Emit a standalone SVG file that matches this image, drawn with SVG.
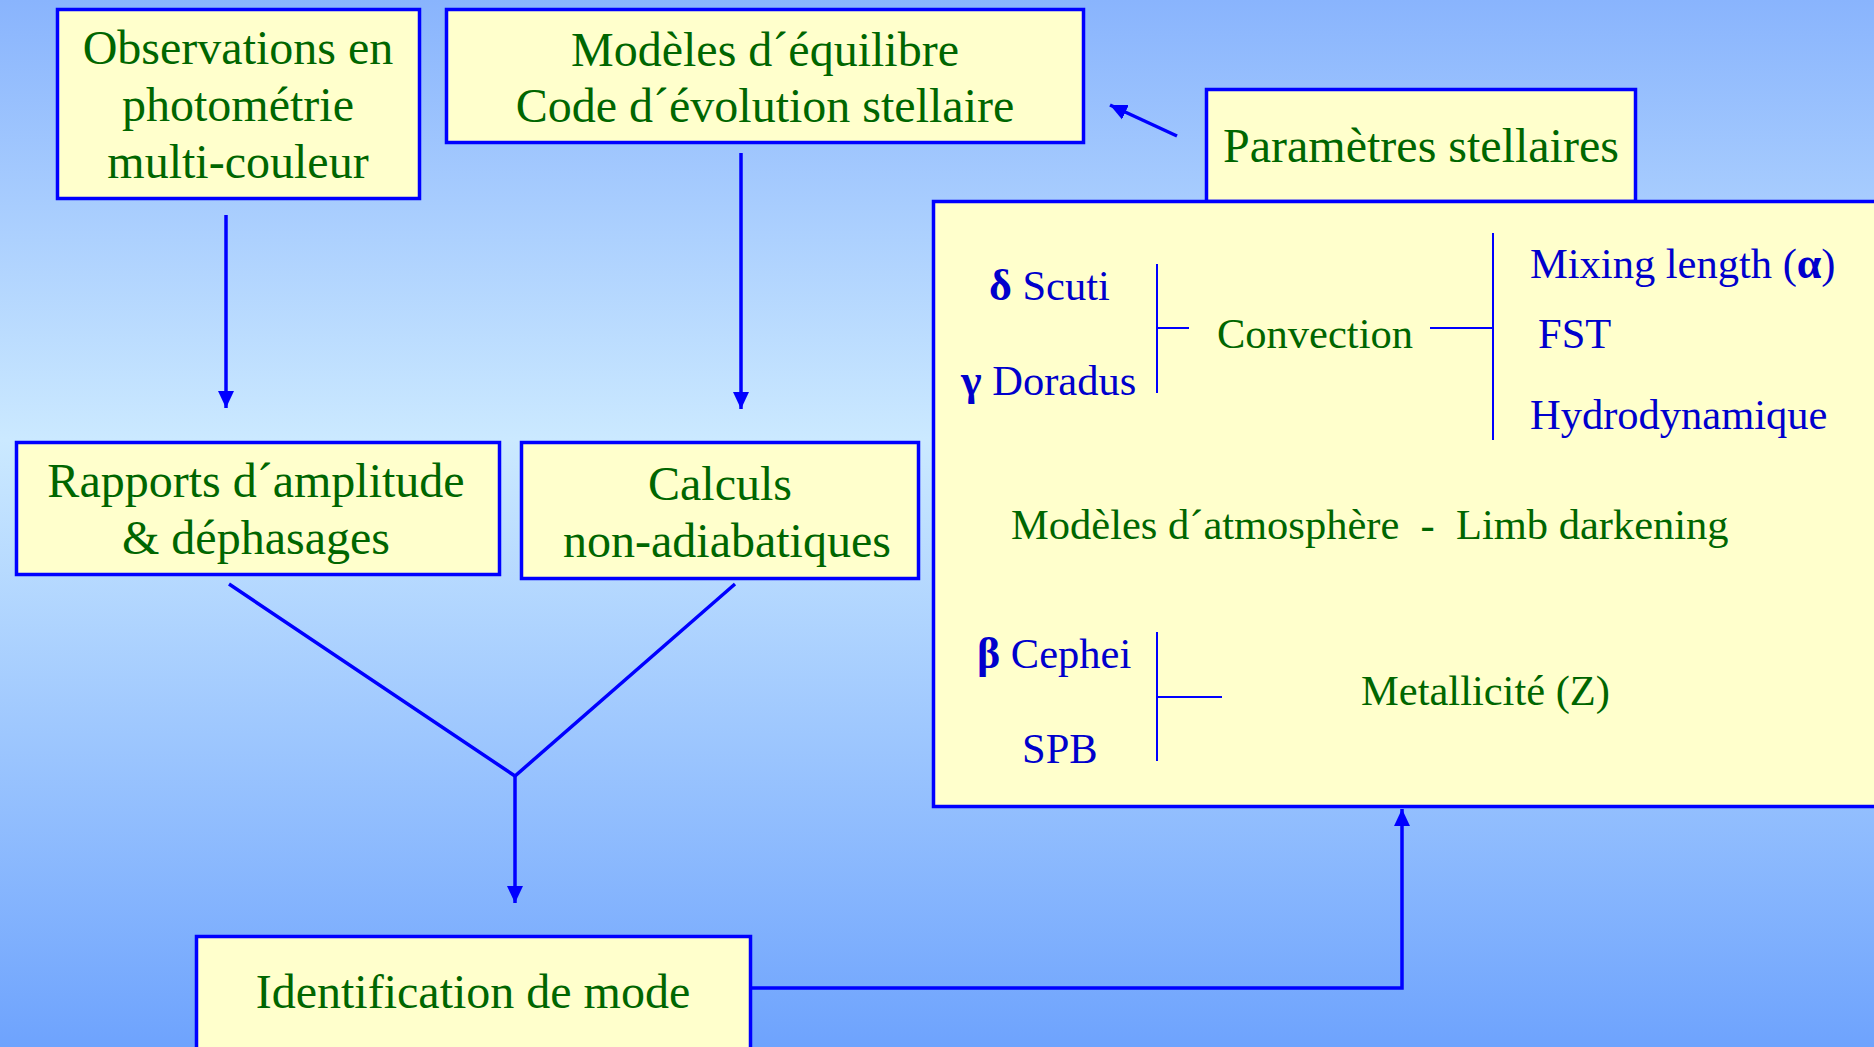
<svg xmlns="http://www.w3.org/2000/svg" width="1874" height="1047" viewBox="0 0 1874 1047">
  <defs>
    <linearGradient id="bg" x1="0" y1="0" x2="0" y2="1">
      <stop offset="0" stop-color="#89b4fd"/>
      <stop offset="0.42" stop-color="#cbe9ff"/>
      <stop offset="1" stop-color="#6ea3fd"/>
    </linearGradient>
    <marker id="head" markerUnits="userSpaceOnUse" markerWidth="18" markerHeight="18" viewBox="0 0 18 18" refX="17" refY="9" orient="auto">
      <path d="M0,1 L17,9 L0,17 Z" fill="#0000ff"/>
    </marker>
    <style>
      .box { fill: #ffffcc; stroke: #0000ff; stroke-width: 3.5; }
      .t { font-family: "Liberation Serif", "Times New Roman", serif; font-size: 48px; fill: #006600; text-anchor: middle; }
      .g { font-family: "Liberation Serif", "Times New Roman", serif; font-size: 42.5px; fill: #006600; }
      .b { font-family: "Liberation Serif", "Times New Roman", serif; font-size: 42.5px; fill: #0000cc; }
      .sym { font-weight: bold; font-size: 44px; }
      .edge { stroke: #0000ff; stroke-width: 3.5; fill: none; }
      .thin { stroke: #0000ff; stroke-width: 2; fill: none; }
    </style>
  </defs>

  <rect x="0" y="0" width="1874" height="1047" fill="url(#bg)"/>

  <g id="connectors">
    <line class="edge" x1="226" y1="215" x2="226" y2="408" marker-end="url(#head)"/>
    <line class="edge" x1="741" y1="153" x2="741" y2="409" marker-end="url(#head)"/>
    <polyline class="edge" points="229,584 515,776 735,584"/>
    <line class="edge" x1="515" y1="776" x2="515" y2="903" marker-end="url(#head)"/>
    <path class="edge" d="M752,988 H1402 V809" stroke-width="4" marker-end="url(#head)"/>
    <line class="edge" x1="1177" y1="136" x2="1110" y2="105" stroke-width="2.5" marker-end="url(#head)"/>
  </g>

  <g id="observations">
    <rect class="box" x="57.5" y="9.5" width="362" height="189"/>
    <text class="t" x="238" y="64">Observations en</text>
    <text class="t" x="238" y="121">photométrie</text>
    <text class="t" x="238" y="178">multi-couleur</text>
  </g>

  <g id="modeles-equilibre">
    <rect class="box" x="446.5" y="9.5" width="637" height="133"/>
    <text class="t" x="765" y="66">Modèles d´équilibre</text>
    <text class="t" x="765" y="122">Code d´évolution stellaire</text>
  </g>

  <g id="rapports">
    <rect class="box" x="16.5" y="442.5" width="483" height="132"/>
    <text class="t" x="256" y="497">Rapports d´amplitude</text>
    <text class="t" x="256" y="554">&amp; déphasages</text>
  </g>

  <g id="calculs">
    <rect class="box" x="521.5" y="442.5" width="397" height="136"/>
    <text class="t" x="720" y="500">Calculs</text>
    <text class="t" x="727" y="557">non-adiabatiques</text>
  </g>

  <g id="identification">
    <rect class="box" x="196.5" y="936.5" width="554" height="130"/>
    <text class="t" x="473" y="1008">Identification de mode</text>
  </g>

  <g id="parametres">
    <rect class="box" x="1206.5" y="89.5" width="429" height="112"/>
    <rect class="box" x="933.5" y="201.5" width="960" height="605"/>
    <text class="t" x="1421" y="162">Paramètres stellaires</text>

    <!-- convection group -->
    <text class="b" x="989" y="300"><tspan class="sym">δ</tspan> Scuti</text>
    <text class="b" x="961" y="395"><tspan class="sym">γ</tspan> Doradus</text>
    <path class="thin" d="M1157,264 V393 M1157,328 H1189"/>
    <text class="g" x="1217" y="348">Convection</text>
    <path class="thin" d="M1430,328 H1493" stroke-width="3"/>
    <path class="thin" d="M1493,233 V440" stroke-width="2.5"/>
    <text class="b" x="1530" y="278">Mixing length (<tspan class="sym">α</tspan>)</text>
    <text class="b" x="1538" y="348">FST</text>
    <text class="b" x="1530" y="429">Hydrodynamique</text>

    <text class="g" x="1011" y="539" xml:space="preserve">Modèles d´atmosphère  -  Limb darkening</text>

    <!-- metallicity group -->
    <text class="b" x="977" y="668"><tspan class="sym">β</tspan> Cephei</text>
    <text class="b" x="1022" y="763">SPB</text>
    <path class="thin" d="M1157,632 V761 M1157,697 H1222"/>
    <text class="g" x="1361" y="705">Metallicité (Z)</text>
  </g>
</svg>
